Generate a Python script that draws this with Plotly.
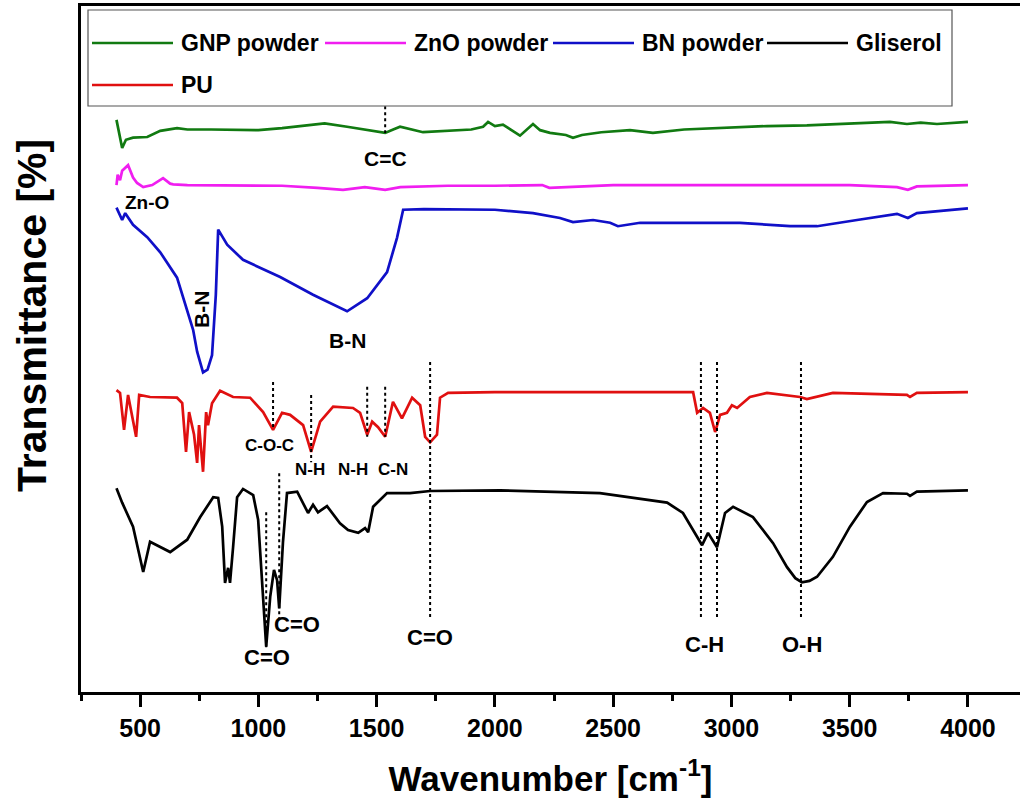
import plotly.graph_objects as go

# ---------------- data (wavenumber cm-1, transmittance a.u. incl. offsets) ----------------
gnp_x = [400, 410, 424, 440, 470, 530, 585, 656, 700, 800, 900, 1000, 1100, 1200, 1280, 1375, 1450, 1536,
         1570, 1599, 1696, 1800, 1900, 1950, 1971, 2000, 2034, 2106, 2161, 2191, 2233, 2300, 2330, 2368, 2450,
         2571, 2668, 2800, 3036, 3150, 3319, 3500, 3670, 3742, 3800, 3869, 4000]
gnp_y = [83.4, 81.5, 79.3, 80.5, 80.8, 80.9, 81.8, 82.2, 82.0, 82.0, 82.0, 81.9, 82.2, 82.6, 82.9, 82.4, 82.0, 81.5,
         82.0, 82.4, 81.6, 81.8, 82.0, 82.4, 83.1, 82.5, 82.7, 81.1, 82.8, 81.9, 81.5, 81.2, 80.8, 81.2, 81.6,
         81.9, 81.5, 82.0, 82.4, 82.5, 82.6, 82.9, 83.1, 82.8, 83.0, 82.8, 83.1]

zno_x = [400, 405, 415, 424, 449, 470, 487, 513, 551, 580, 597, 627, 640, 700, 900, 1100, 1250, 1358, 1450, 1536,
         1600, 1800, 2000, 2200, 2230, 2500, 2700, 3000, 3300, 3500, 3700, 3746, 3784, 3870, 4000]
zno_y = [73.9, 75.4, 74.6, 76.0, 76.8, 75.0, 74.2, 73.6, 73.9, 74.5, 74.9, 74.1, 74.0, 73.9, 73.8, 73.8, 73.5, 73.2,
         73.6, 73.2, 73.6, 73.8, 73.8, 73.9, 73.5, 73.9, 73.9, 73.9, 73.8, 73.9, 73.6, 73.2, 73.7, 73.8, 73.9]

bn_x = [400, 415, 424, 437, 470, 530, 585, 656, 703, 724, 741, 766, 785, 804, 820, 830, 868, 935, 1092, 1231, 1375,
        1460, 1544, 1586, 1612, 1700, 2000, 2161, 2275, 2330, 2415, 2487, 2520, 2614, 2800, 3036, 3248, 3362, 3531,
        3700, 3746, 3784, 4000]
bn_y = [70.6, 69.5, 68.8, 69.8, 68.1, 66.3, 64.1, 60.4, 55.0, 52.8, 49.6, 46.6, 47.0, 49.1, 57.9, 67.4, 65.2, 63.0,
        60.5, 57.9, 55.5, 57.4, 61.2, 66.2, 70.3, 70.4, 70.3, 69.8, 69.1, 68.5, 68.8, 68.4, 67.9, 68.4, 68.4, 68.4,
        67.9, 67.9, 68.8, 69.7, 69.1, 69.8, 70.5]

pu_x = [400, 415, 432, 449, 483, 496, 542, 656, 678, 694, 707, 728, 741, 749, 766, 779, 787, 804, 838, 893, 965,
        1020, 1062, 1100, 1134, 1189, 1223, 1261, 1316, 1400, 1430, 1460, 1481, 1506, 1536, 1569, 1607, 1650, 1684,
        1705, 1726, 1755, 1768, 1802, 2000, 2500, 2838, 2855, 2880, 2909, 2931, 2952, 2981, 3002, 3024, 3078, 3150,
        3290, 3319, 3429, 3742, 3755, 3784, 4000]
pu_y = [44.0, 43.6, 38.2, 43.3, 37.2, 43.3, 43.0, 42.9, 42.1, 35.0, 40.8, 37.5, 33.4, 38.9, 32.1, 40.8, 38.9, 42.1,
        43.9, 43.0, 42.9, 40.8, 38.2, 40.7, 40.4, 38.9, 35.0, 39.4, 41.6, 41.4, 40.7, 37.5, 39.4, 38.6, 37.2, 42.3,
        39.9, 42.9, 41.8, 37.2, 36.4, 37.5, 42.9, 43.6, 43.7, 43.7, 43.7, 40.7, 41.4, 40.7, 37.9, 40.4, 40.7, 41.8,
        41.4, 43.0, 43.6, 43.0, 42.7, 43.6, 43.3, 43.0, 43.6, 43.7]

gli_x = [400, 424, 470, 513, 542, 585, 627, 699, 754, 809, 830, 847, 859, 872, 880, 893, 910, 935, 978, 999, 1016,
         1033, 1050, 1066, 1079, 1088, 1104, 1121, 1164, 1189, 1210, 1231, 1252, 1290, 1345, 1379, 1422, 1451, 1464,
         1485, 1544, 1641, 1726, 2022, 2444, 2728, 2795, 2876, 2901, 2939, 2973, 3007, 3091, 3176, 3235, 3270, 3298,
         3330, 3362, 3429, 3501, 3573, 3641, 3742, 3755, 3784, 4000]
gli_y = [29.7, 27.6, 24.1, 17.5, 21.9, 21.1, 20.4, 22.2, 25.5, 28.4, 28.3, 24.1, 15.9, 18.1, 15.9, 21.1, 28.4, 29.6,
         28.7, 25.1, 16.3, 6.6, 13.9, 17.8, 16.3, 12.2, 21.9, 29.0, 29.2, 27.6, 26.1, 27.3, 26.2, 27.1, 24.6, 23.6,
         23.2, 23.9, 23.3, 27.0, 29.0, 29.0, 29.3, 29.4, 29.0, 27.6, 26.1, 21.4, 23.2, 21.1, 26.1, 27.0, 25.5, 21.7,
         18.2, 16.6, 16.0, 16.2, 16.8, 19.7, 24.1, 27.7, 29.0, 28.9, 28.6, 29.2, 29.4]

series_names = ["GNP powder", "ZnO powder", "BN powder", "Gliserol", "PU"]
series_colors = ["#117a11", "#f01ef0", "#1010c8", "#000000", "#e01010"]

# peak marker lines: wavenumber, y-from, y-to
mark_x = [1536, 1062, 1223, 1460, 1536, 1726, 1033, 1088, 2871, 2939, 3294]
mark_y0 = [85.4, 45.2, 43.3, 44.5, 44.5, 48.1, 26.2, 31.9, 48.1, 48.1, 48.1]
mark_y1 = [81.5, 38.2, 33.5, 37.2, 37.2, 10.8, 6.1, 10.1, 10.5, 10.5, 10.5]

# peak labels: text, wavenumber, y, font size, angle
lab_text = ["C=C", "Zn-O", "B-N", "B-N", "C-O-C", "N-H", "N-H", "C-N", "C=O", "C=O", "C=O", "C-H", "O-H"]
lab_x = [1536, 530, 762, 1375, 1045, 1219, 1400, 1569, 1726, 1037, 1164, 2888, 3298]
lab_y = [77.8, 71.4, 55.7, 51.3, 35.9, 32.5, 32.4, 32.4, 8.0, 5.0, 9.8, 6.9, 6.9]
lab_size = [21, 19, 21, 21, 17, 17, 17, 17, 22, 22, 22, 22, 22]
lab_angle = [0, 0, -90, 0, 0, 0, 0, 0, 0, 0, 0, 0, 0]

FONT = "Liberation Sans, Arial, sans-serif"

fig = go.Figure()
all_x = [gnp_x, zno_x, bn_x, gli_x, pu_x]
all_y = [gnp_y, zno_y, bn_y, gli_y, pu_y]
for name, c, xs, ys in zip(series_names, series_colors, all_x, all_y):
    fig.add_trace(go.Scatter(x=xs, y=ys, mode="lines", name=name,
                             line=dict(color=c, width=2.7), showlegend=False))

for xm, a, b in zip(mark_x, mark_y0, mark_y1):
    fig.add_shape(type="line", xref="x", yref="y", x0=xm, x1=xm, y0=a, y1=b,
                  line=dict(color="black", width=2, dash="dot"), layer="above")

for t, xx, yy, s, ang in zip(lab_text, lab_x, lab_y, lab_size, lab_angle):
    fig.add_annotation(x=xx, y=yy, xref="x", yref="y", text=t, showarrow=False, textangle=ang,
                       font=dict(family=FONT, size=s, color="black", weight="bold"),
                       xanchor="center", yanchor="middle")

# ---------------- manual legend (box + line samples + labels) ----------------
W_PLOT = 939.0
H_PLOT = 686.0
def px(v):
    return (v - 81) / W_PLOT
def py(v):
    return (692 - v) / H_PLOT

fig.add_shape(type="rect", xref="paper", yref="paper", x0=px(88), x1=px(952), y0=py(106), y1=py(10),
              line=dict(color="#555555", width=1.2), fillcolor="white", layer="above")
leg_items = [("GNP powder", 0, 92, 43), ("ZnO powder", 1, 325, 43), ("BN powder", 2, 553, 43),
             ("Gliserol", 3, 767, 43), ("PU", 4, 92, 85)]
for name, idx, x0, yrow in leg_items:
    fig.add_shape(type="line", xref="paper", yref="paper", x0=px(x0), x1=px(x0 + 81), y0=py(yrow), y1=py(yrow),
                  line=dict(color=series_colors[idx], width=2.7), layer="above")
    fig.add_annotation(x=px(x0 + 87), y=py(yrow), xref="paper", yref="paper", text=name, showarrow=False,
                       xanchor="left", yanchor="middle",
                       font=dict(family=FONT, size=23, color="black", weight="bold"))

# y-axis title placed as a rotated text left of the axis
fig.add_annotation(x=px(32), y=py(316), xref="paper", yref="paper", text="Transmittance [%]",
                   showarrow=False, textangle=-90, xanchor="center", yanchor="middle",
                   font=dict(family=FONT, size=41, color="black", weight="bold"))

fig.update_layout(
    width=1020, height=809,
    margin=dict(l=81, r=0, t=6, b=117),
    paper_bgcolor="white", plot_bgcolor="white",
    font=dict(family=FONT, color="black"),
    showlegend=False,
)
fig.update_xaxes(
    range=[250, 4220], tickmode="linear", tick0=500, dtick=500,
    ticks="outside", ticklen=12, tickwidth=2.5, tickcolor="black",
    minor=dict(dtick=250, tick0=250, ticks="outside", ticklen=6, tickwidth=2.5, tickcolor="black"),
    showline=True, linewidth=3, linecolor="black", mirror=True,
    showgrid=False, zeroline=False,
    tickfont=dict(family=FONT, size=25, color="black", weight="bold"),
    title=dict(text="Wavenumber [cm<sup>-1</sup>]", standoff=26,
               font=dict(family=FONT, size=35, color="black", weight="bold")),
)
fig.update_yaxes(
    range=[0, 100], showticklabels=False, ticks="",
    showline=True, linewidth=3, linecolor="black", mirror=False,
    showgrid=False, zeroline=False,
)

fig.write_html("out.html")
